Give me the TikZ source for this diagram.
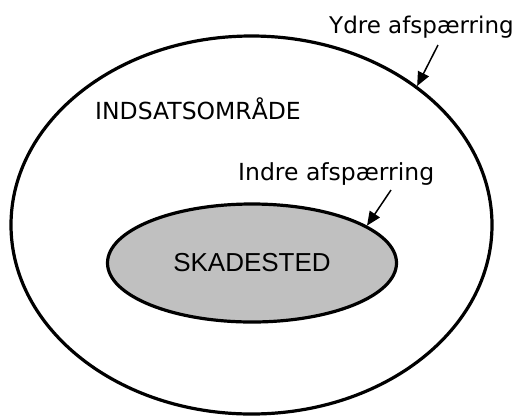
\documentclass[tikz,border=0pt]{standalone}
\usepackage{fontspec}
\setmainfont{DejaVu Sans}
\newfontfamily\arialfont{Liberation Sans}
\usetikzlibrary{arrows.meta,shapes.geometric}
\definecolor{skadegray}{HTML}{C0C0C0}

\begin{document}
\begin{tikzpicture}[x=1pt,y=-1pt,>={Triangle[length=14pt,width=12pt]},
every node/.style={font=\fontsize{23.5}{28}\selectfont, inner sep=0pt},
zone/.style={ellipse, draw=black, line width=3.2pt},
pil/.style={->, line width=1.5pt}]
\useasboundingbox (0,0) rectangle (521,416);
% the two areas
\node[zone, minimum width=481, minimum height=378] (outer) at (251.5,225) {};
\node[zone, fill=skadegray, minimum width=289, minimum height=118,
      font=\arialfont\fontsize{26}{30}\selectfont] (inner) at (252,263) {SKADESTED};
% labels
\node[anchor=base west] (omraade) at (95,119) {INDSATSOMRÅDE};
\node[anchor=base west, font=\fontsize{23}{28}\selectfont] (ydre) at (329,33) {Ydre afspærring};
\node[anchor=base west] (indre) at (238,180) {Indre afspærring};
% pointers to the borders
\coordinate (ydretail) at (438,45);
\coordinate (indretail) at (391,190);
\draw[pil] (ydretail) -- (outer.40);
\draw[pil] (indretail) -- (inner.18);
\end{tikzpicture}
\end{document}
